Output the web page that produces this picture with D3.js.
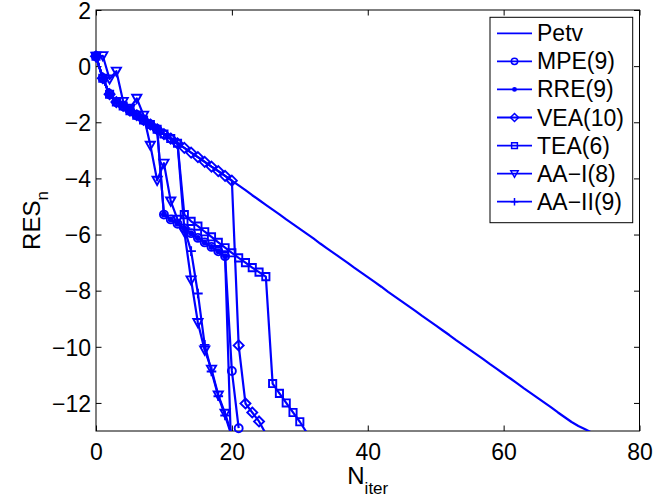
<!DOCTYPE html>
<html><head><meta charset="utf-8">
<script src="https://cdn.jsdelivr.net/npm/d3@7"></script>
<style>
body{margin:0;background:#fff}
text{font-family:"Liberation Sans",Arial,Helvetica,sans-serif}
</style>
</head><body>
<svg id="chart" width="654" height="499"></svg>
<script>
// ---- data (value at iteration index n = array index) ----
const petv = [0.35,-0.43,-1.00,-1.28,-1.42,-1.59,-1.75,-1.92,-2.08,-2.25,-2.42,-2.58,-2.75,-2.91,-3.08,-3.24,-3.41,-3.58,-3.74,-3.91,
  -4.08,-4.25,-4.42,-4.60,-4.77,-4.94,-5.11,-5.28,-5.46,-5.63,-5.80,-5.97,-6.14,-6.32,-6.49,-6.66,-6.83,-7.00,-7.18,-7.35,
  -7.52,-7.69,-7.86,-8.04,-8.21,-8.38,-8.55,-8.72,-8.90,-9.07,-9.24,-9.41,-9.58,-9.76,-9.93,-10.10,-10.27,-10.44,-10.62,-10.79,
  -10.96,-11.13,-11.30,-11.48,-11.65,-11.82,-11.99,-12.16,-12.34,-12.51,-12.68,-12.82,-12.94,-13.06];
const mpe = [0.35,-0.43,-1.00,-1.28,-1.42,-1.59,-1.75,-1.92,-2.08,-2.25,
  -5.29,-5.46,-5.62,-5.78,-5.95,-6.12,-6.28,-6.44,-6.60,-6.77,-10.86,-12.90];
const rre = [0.35,-0.43,-1.00,-1.28,-1.42,-1.59,-1.75,-1.92,-2.08,-2.25,
  -5.29,-5.46,-5.62,-5.78,-5.95,-6.12,-6.28,-6.44,-6.60,-6.77,-14.5];
const vea = [0.35,-0.43,-1.00,-1.28,-1.42,-1.59,-1.75,-1.92,-2.08,-2.25,-2.42,-2.58,-2.75,-2.91,-3.08,-3.24,-3.41,-3.58,-3.74,-3.91,
  -4.08,-9.95,-12.02,-12.34,-12.66,-13.10];
const tea = [0.35,-0.43,-1.00,-1.28,-1.42,-1.59,-1.75,-1.92,-2.08,-2.25,-2.42,-2.58,-2.75,
  -5.29,-5.53,-5.70,-5.90,-6.08,-6.28,-6.47,-6.65,-6.83,-7.00,-7.18,-7.34,-7.50,
  -11.31,-11.66,-12.00,-12.34,-12.67,-13.05];
const aa1 = [0.35,0.37,-0.46,-0.18,-1.26,-1.50,-1.15,-1.75,-2.82,-4.07,-3.46,-4.81,-5.46,-5.90,-7.62,-9.14,-10.12,-10.80,-11.72,-12.37,-13.15];
const aa2 = [0.35,-0.43,-1.00,-1.28,-1.42,-1.59,-1.75,-1.92,-2.08,-2.25,-2.42,-2.58,-2.75,
  -5.78,-6.59,-8.10,-9.93,-10.88,-11.76,-12.45,-13.20];

const seriesNames = ["Petv","MPE(9)","RRE(9)","VEA(10)","TEA(6)","AA\u2212I(8)","AA\u2212II(9)"];
const seriesData  = [petv, mpe, rre, vea, tea, aa1, aa2];
const seriesMarks = ["none","circle","dot","diamond","square","triv","plus"];
const xTicks = [0,20,40,60,80];
const yTicks = [-12,-10,-8,-6,-4,-2,0,2];
const xDomain = [0,80], yDomain = [-13,2];

// ---- layout ----
const L = 96, R = 639.5, T = 10, B = 431;
const blue = "#0000ff";
const fs = 23;
const svg = d3.select("#chart");
const x = d3.scaleLinear().domain(xDomain).range([L,R]);
const y = d3.scaleLinear().domain(yDomain).range([B,T]);

svg.append("defs").append("clipPath").attr("id","clip")
  .append("rect").attr("x",L).attr("y",T).attr("width",R-L).attr("height",B-T);

// axes
const tick = 5.5;
const gx = svg.append("g").attr("transform",`translate(0,${B})`)
  .call(d3.axisBottom(x).tickValues(xTicks).tickSizeInner(-tick).tickSizeOuter(0).tickPadding(12.5));
const gy = svg.append("g").attr("transform",`translate(${L},0)`)
  .call(d3.axisLeft(y).tickValues(yTicks).tickSizeInner(-tick).tickSizeOuter(0).tickPadding(5));
const gt = svg.append("g").attr("transform",`translate(0,${T})`)
  .call(d3.axisTop(x).tickValues(xTicks).tickSizeInner(-tick).tickSizeOuter(0).tickFormat(""));
const gr = svg.append("g").attr("transform",`translate(${R},0)`)
  .call(d3.axisRight(y).tickValues(yTicks).tickSizeInner(-tick).tickSizeOuter(0).tickFormat(""));
[gx,gy,gt,gr].forEach(g=>{
  g.select(".domain").remove();
  g.selectAll("line").attr("stroke","#000").attr("stroke-width",1);
  g.selectAll("text").attr("font-size",fs).attr("fill","#000")
   .style("font-family",'"Liberation Sans",Arial,sans-serif');
});
gy.selectAll("text").attr("dy","0.36em");
svg.append("rect").attr("x",L).attr("y",T).attr("width",R-L).attr("height",B-T)
  .attr("fill","none").attr("stroke","#000").attr("stroke-width",1);

// marker paths
function markerPath(type){
  switch(type){
    case "diamond": return "M0,-5L5,0L0,5L-5,0Z";
    case "square": return "M-3.6,-3.6H3.6V3.6H-3.6Z";
    case "triv": return "M-4.6,-3.6H4.6L0,4.6Z";
    case "plus": return "M-4.8,0H4.8M0,-4.8V4.8";
    default: return null;
  }
}
function drawMarker(g, type, cx, cy, scale, sw){
  scale = scale||1;
  if(type==="none") return;
  if(type==="circle"){
    g.append("circle").attr("cx",cx).attr("cy",cy).attr("r",4*scale)
      .attr("fill","none").attr("stroke",blue).attr("stroke-width",sw);
  } else if(type==="dot"){
    g.append("circle").attr("cx",cx).attr("cy",cy).attr("r",3*scale).attr("fill",blue);
  } else {
    g.append("path").attr("d",markerPath(type))
      .attr("transform",`translate(${cx},${cy}) scale(${scale})`)
      .attr("fill","none").attr("stroke",blue).attr("stroke-width",sw/scale);
  }
}

const line = d3.line().x((d,i)=>x(i)).y(d=>y(d));
const plot = svg.append("g");
seriesData.forEach((data,k)=>{
  const g = plot.append("g");
  g.append("path").datum(data).attr("d",line).attr("clip-path","url(#clip)")
    .attr("fill","none").attr("stroke",blue).attr("stroke-width",2.2).attr("stroke-linejoin","round");
  data.forEach((v,i)=>{
    if(v>=yDomain[0] && v<=yDomain[1]) drawMarker(g, seriesMarks[k], x(i), y(v), 1, 1.9);
  });
});

// legend
const lg = svg.append("g");
const lx = 490, ly = 17.3, lw = 142.7, lh = 205.4, rowH = 28.07;
lg.append("rect").attr("x",lx).attr("y",ly).attr("width",lw).attr("height",lh)
  .attr("fill","#fff").attr("stroke","#000").attr("stroke-width",1);
seriesNames.forEach((name,k)=>{
  const cy = ly + 16 + k*rowH;
  lg.append("line").attr("x1",lx+7).attr("x2",lx+42).attr("y1",cy).attr("y2",cy)
    .attr("stroke",blue).attr("stroke-width",1.8);
  drawMarker(lg, seriesMarks[k], lx+24.5, cy, 0.8, 1.5);
  lg.append("text").attr("x",lx+47).attr("y",cy+8).attr("font-size",fs).text(name);
});

// axis labels
const xl = svg.append("text").attr("x",(L+R)/2).attr("y",484).attr("text-anchor","middle").attr("font-size",24);
xl.append("tspan").text("N");
xl.append("tspan").attr("font-size",17).attr("dy",10).text("iter");
const yl = svg.append("text").attr("transform",`translate(40,${(T+B)/2}) rotate(-90)`)
  .attr("text-anchor","middle").attr("font-size",24);
yl.append("tspan").text("RES");
yl.append("tspan").attr("font-size",17).attr("dy",8).text("n");
</script>
</body></html>
